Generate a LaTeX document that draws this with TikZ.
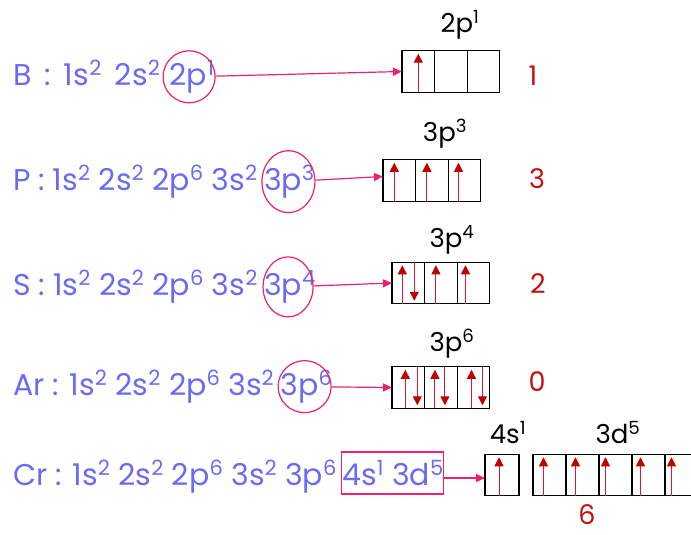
\documentclass[tikz,border=0pt]{standalone}
\usepackage{fontspec}
\setmainfont{Poppins}
\usetikzlibrary{arrows.meta,shapes.geometric}
\definecolor{cfg}{HTML}{6B6BF2}
\definecolor{hot}{HTML}{F0206E}
\definecolor{spin}{HTML}{C00000}
\definecolor{spinline}{HTML}{D02030}
\definecolor{cnt}{HTML}{C41010}
\newcommand\sps[1]{\textsuperscript{#1}}
\newcommand\eup[2]{\draw[spinup] ([xshift=#2pt]#1.south) -- ([xshift=#2pt,yshift=-3pt]#1.north);}
\newcommand\edn[2]{\draw[spinup] ([xshift=#2pt]#1.north) -- ([xshift=#2pt,yshift=3pt]#1.south);}
\begin{document}
\begin{tikzpicture}[x=1pt,y=-1pt,
  cfgtext/.style={anchor=base west, inner sep=0pt, text=cfg, font=\fontsize{30}{34}\selectfont},
  ring/.style={draw=hot, line width=1.2pt, ellipse, inner sep=0pt},
  link/.style={draw=hot, line width=1.2pt, -{Triangle[length=9pt,width=8pt]}},
  orb/.style={draw=black, line width=1.2pt, minimum width=32.6pt, minimum height=41.5pt, inner sep=0pt, outer sep=0pt},
  spinup/.style={draw=spinline, line width=1pt, -{Triangle[length=9pt,width=9pt,fill=spin,color=spin]}},
  sublabel/.style={text=black, font=\fontsize{26}{30}\selectfont, inner sep=0pt},
  count/.style={text=cnt, font=\fontsize{27}{30}\selectfont, inner sep=0pt}
]
\useasboundingbox (0,0) rectangle (691,535);

% ---------- B ----------
\node[cfgtext] (t1) at (13,85) {B\, : \,1s\sps{2} \,2s\sps{2}};
\node[cfgtext] (t1c) at ([xshift=9pt]t1.base east) {2p\sps{1}};
\node[ring, minimum width=52pt, minimum height=52pt] (c1) at ([xshift=-3pt]t1c.center) {};
\node[orb] (p1a) at (418.3,71.5) {};
\node[orb,anchor=west] (p1b) at (p1a.east) {};
\node[orb,anchor=west] (p1c) at (p1b.east) {};
\draw[link] (c1) -- (p1a.west);
\eup{p1a}{0}
\node[sublabel] (l1) at (460,25) {2p\sps{1}};
\node[count] (n1) at (533,76) {1};

% ---------- P ----------
\node[cfgtext] (t2) at (13,190) {P : 1s\sps{2} 2s\sps{2} 2p\sps{6} 3s\sps{2}};
\node[cfgtext] (t2c) at ([xshift=6pt]t2.base east) {3p\sps{3}};
\node[ring, minimum width=53pt, minimum height=62pt] (c2) at ([xshift=-1pt]t2c.center) {};
\node[orb] (p2a) at (399.3,180.5) {};
\node[orb,anchor=west] (p2b) at (p2a.east) {};
\node[orb,anchor=west] (p2c) at (p2b.east) {};
\draw[link] (c2) -- ([yshift=4pt]p2a.west);
\eup{p2a}{-5}
\eup{p2b}{-5}
\eup{p2c}{-6}
\node[sublabel] (l2) at (445,134) {3p\sps{3}};
\node[count] (n2) at (537,179) {3};

% ---------- S ----------
\node[cfgtext] (t3) at (13,295) {S : 1s\sps{2} 2s\sps{2} 2p\sps{6} 3s\sps{2}};
\node[cfgtext] (t3c) at ([xshift=6pt]t3.base east) {3p\sps{4}};
\node[ring, minimum width=50pt, minimum height=60pt] (c3) at ([xshift=-2pt]t3c.center) {};
\node[orb] (p3a) at (408.3,283) {};
\node[orb,anchor=west] (p3b) at (p3a.east) {};
\node[orb,anchor=west] (p3c) at (p3b.east) {};
\draw[link] (c3) -- (p3a.west);
\eup{p3a}{-6}
\edn{p3a}{6}
\eup{p3b}{-5}
\eup{p3c}{-8}
\node[sublabel] (l3) at (452,240) {3p\sps{4}};
\node[count] (n3) at (538,284) {2};

% ---------- Ar ----------
\node[cfgtext] (t4) at (13,395) {Ar : 1s\sps{2} 2s\sps{2} 2p\sps{6} 3s\sps{2}};
\node[cfgtext] (t4c) at ([xshift=6pt]t4.base east) {3p\sps{6}};
\node[ring, minimum width=53pt, minimum height=52pt] (c4) at ([xshift=-2pt]t4c.center) {};
\node[orb] (p4a) at (408.3,387.5) {};
\node[orb,anchor=west] (p4b) at (p4a.east) {};
\node[orb,anchor=west] (p4c) at (p4b.east) {};
\draw[link] (c4) -- (p4a.west);
\eup{p4a}{-3}
\edn{p4a}{9}
\eup{p4b}{-6}
\edn{p4b}{4}
\eup{p4c}{-2}
\edn{p4c}{9}
\node[sublabel] (l4) at (452,344) {3p\sps{6}};
\node[count] (n4) at (537,382) {0};

% ---------- Cr ----------
\node[cfgtext] (t5) at (13,485) {Cr : 1s\sps{2} 2s\sps{2} 2p\sps{6} 3s\sps{2} 3p\sps{6}};
\node[cfgtext] (t5c) at ([xshift=5pt]t5.base east) {4s\sps{1} 3d\sps{5}};
\node[draw=hot, line width=1.2pt, inner sep=0pt, minimum width=102pt, minimum height=42pt] (bx5) at ([xshift=-1pt]t5c.center) {};
\node[orb, minimum width=34pt] (s5) at (502,475) {};
\node[orb, minimum width=33pt] (d5a) at (549.5,475) {};
\node[orb, minimum width=33pt, anchor=west] (d5b) at (d5a.east) {};
\node[orb, minimum width=33pt, anchor=west] (d5c) at (d5b.east) {};
\node[orb, minimum width=33pt, anchor=west] (d5d) at (d5c.east) {};
\node[orb, minimum width=33pt, anchor=west] (d5e) at (d5d.east) {};
\draw[link] ([yshift=-5pt]bx5.east) -- ([yshift=-5pt]bx5.east -| s5.west);
\eup{s5}{-3}
\eup{d5a}{-6}
\eup{d5b}{-7}
\eup{d5c}{-10}
\eup{d5d}{-8}
\eup{d5e}{-10}
\node[sublabel] (l5a) at (508,433) {4s\sps{1}};
\node[sublabel] (l5b) at (618,433) {3d\sps{5}};
\node[count] (n5) at (587,515) {6};
\end{tikzpicture}
\end{document}
